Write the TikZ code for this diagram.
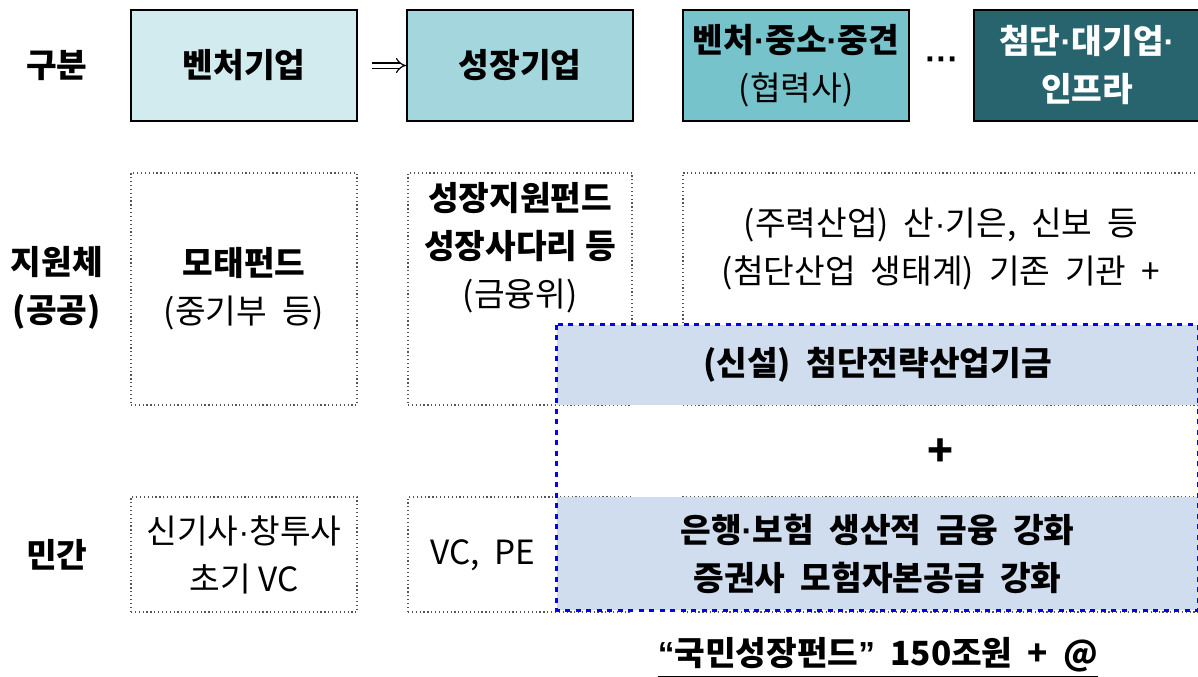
\documentclass[tikz,border=0pt]{standalone}
\usepackage{fontspec}
\setmainfont{Noto Sans CJK KR}
\newfontfamily\dotfont{Liberation Sans}
\usetikzlibrary{arrows.meta}

\newcommand{\pxu}{0.75pt}
\newcommand{\bigtxt}{\fontsize{25}{36}\selectfont}
\newcommand{\md}{{\dotfont ·}}
\definecolor{tealone}{HTML}{D2EBEE}
\definecolor{tealtwo}{HTML}{A3D7DD}
\definecolor{tealthree}{HTML}{76C3CC}
\definecolor{tealfour}{HTML}{28646E}
\definecolor{bandblue}{HTML}{D0DDEE}
\definecolor{framegray}{HTML}{555555}

\tikzset{
  head/.style={draw=black, line width=2*\pxu, minimum width=226*\pxu, minimum height=111*\pxu,
    inner sep=0pt, align=center, font=\bigtxt\bfseries},
  cell/.style={draw=framegray, dotted, line width=1.2*\pxu, inner sep=0pt},
  band/.style={fill=bandblue, inner sep=0pt},
  txt/.style={align=center, font=\bigtxt},
  btxt/.style={align=center, font=\bigtxt\bfseries},
}

\begin{document}
\begin{tikzpicture}[x=\pxu, y=-\pxu]
\useasboundingbox (0,0) rectangle (1198,676);

% row labels
\node[btxt] (gubun) at (57,66) {구분};
\node[btxt] (public) at (57,288) {지원체\\(공공)};
\node[btxt] (private) at (57,555) {민간};

% top row
\node[head, fill=tealone] (venture) at (244,65.5) {벤처기업};
\node[head, fill=tealtwo] (growth) at (520,65.5) {성장기업};
\node[head, fill=tealthree] (coop) at (796,65.5) {벤처\md 중소\md 중견\\\mdseries(협력사)};
\node[head, fill=tealfour, text=white] (hightech) at (1087,65.5) {첨단\md 대기업\md\\인프라};
\node[font=\bigtxt\bfseries\dotfont] (dots) at (942,64) {···};
\draw[double, double distance=4*\pxu, line width=1.2*\pxu, -{Implies}, shorten <=14*\pxu] (venture.east) -- (growth.west);

% public cells
\node[cell, minimum width=226*\pxu, minimum height=232*\pxu] (mother) at (244,289) {};
\node[cell, minimum width=224*\pxu, minimum height=232*\pxu] (ladder) at (520,289) {};
\node[cell, minimum width=517*\pxu, minimum height=232*\pxu] (existing) at (941.5,289) {};
\node[txt] (mothertxt) at (mother) {\textbf{모태펀드}\\(중기부\ \ 등)};
\node[txt] (laddertxt) at (520,248) {\textbf{성장지원펀드}\\\textbf{성장사다리 등}\\(금융위)};
\node[txt] (existingtxt) at (941,249) {(주력산업)\ \ 산\md 기은,\ \ 신보\ \ 등\\(첨단산업\ \ 생태계)\ \ 기존\ \ 기관\ \ +};

% private cells
\node[cell, minimum width=226*\pxu, minimum height=115*\pxu] (vcinit) at (244,554.5) {};
\node[cell, minimum width=224*\pxu, minimum height=115*\pxu] (vcpe) at (520,554.5) {};
\node[cell, minimum width=517*\pxu, minimum height=115*\pxu] (bankcell) at (941.5,554.5) {};
\node[txt] (vcinittxt) at (vcinit) {신기사\md 창투사\\초기\ VC};
\node[txt] (vcpetxt) at (483,555) {VC,\ \ PE};

% new fund frame
\node[band, minimum width=641*\pxu, minimum height=80*\pxu] (newfund) at (877.5,365) {};
\node[band, minimum width=641*\pxu, minimum height=113*\pxu] (bank) at (877.5,553.5) {};
\node[btxt] (newfundtxt) at (newfund) {(신설)\ \ 첨단전략산업기금};
\node[btxt] (banktxt) at (bank) {은행\md 보험\ \ 생산적\ \ 금융\ \ 강화\\증권사\ \ 모험자본공급\ \ 강화};
\node[font=\fontsize{32}{32}\selectfont\bfseries] (plus) at (940,453) {+};
\draw[blue, line width=3.5*\pxu, dash pattern=on 5*\pxu off 5.5*\pxu] (newfund.north west) rectangle (bank.south east);

% total
\node[btxt, inner sep=0pt] (total) at (878,655) {{\dotfont“}국민성장펀드{\dotfont”}\ \ 150조원\ \ +\ \ @};
\draw[line width=2*\pxu] ([yshift=-4*\pxu]total.south west) -- ([yshift=-4*\pxu]total.south east);
\end{tikzpicture}
\end{document}
